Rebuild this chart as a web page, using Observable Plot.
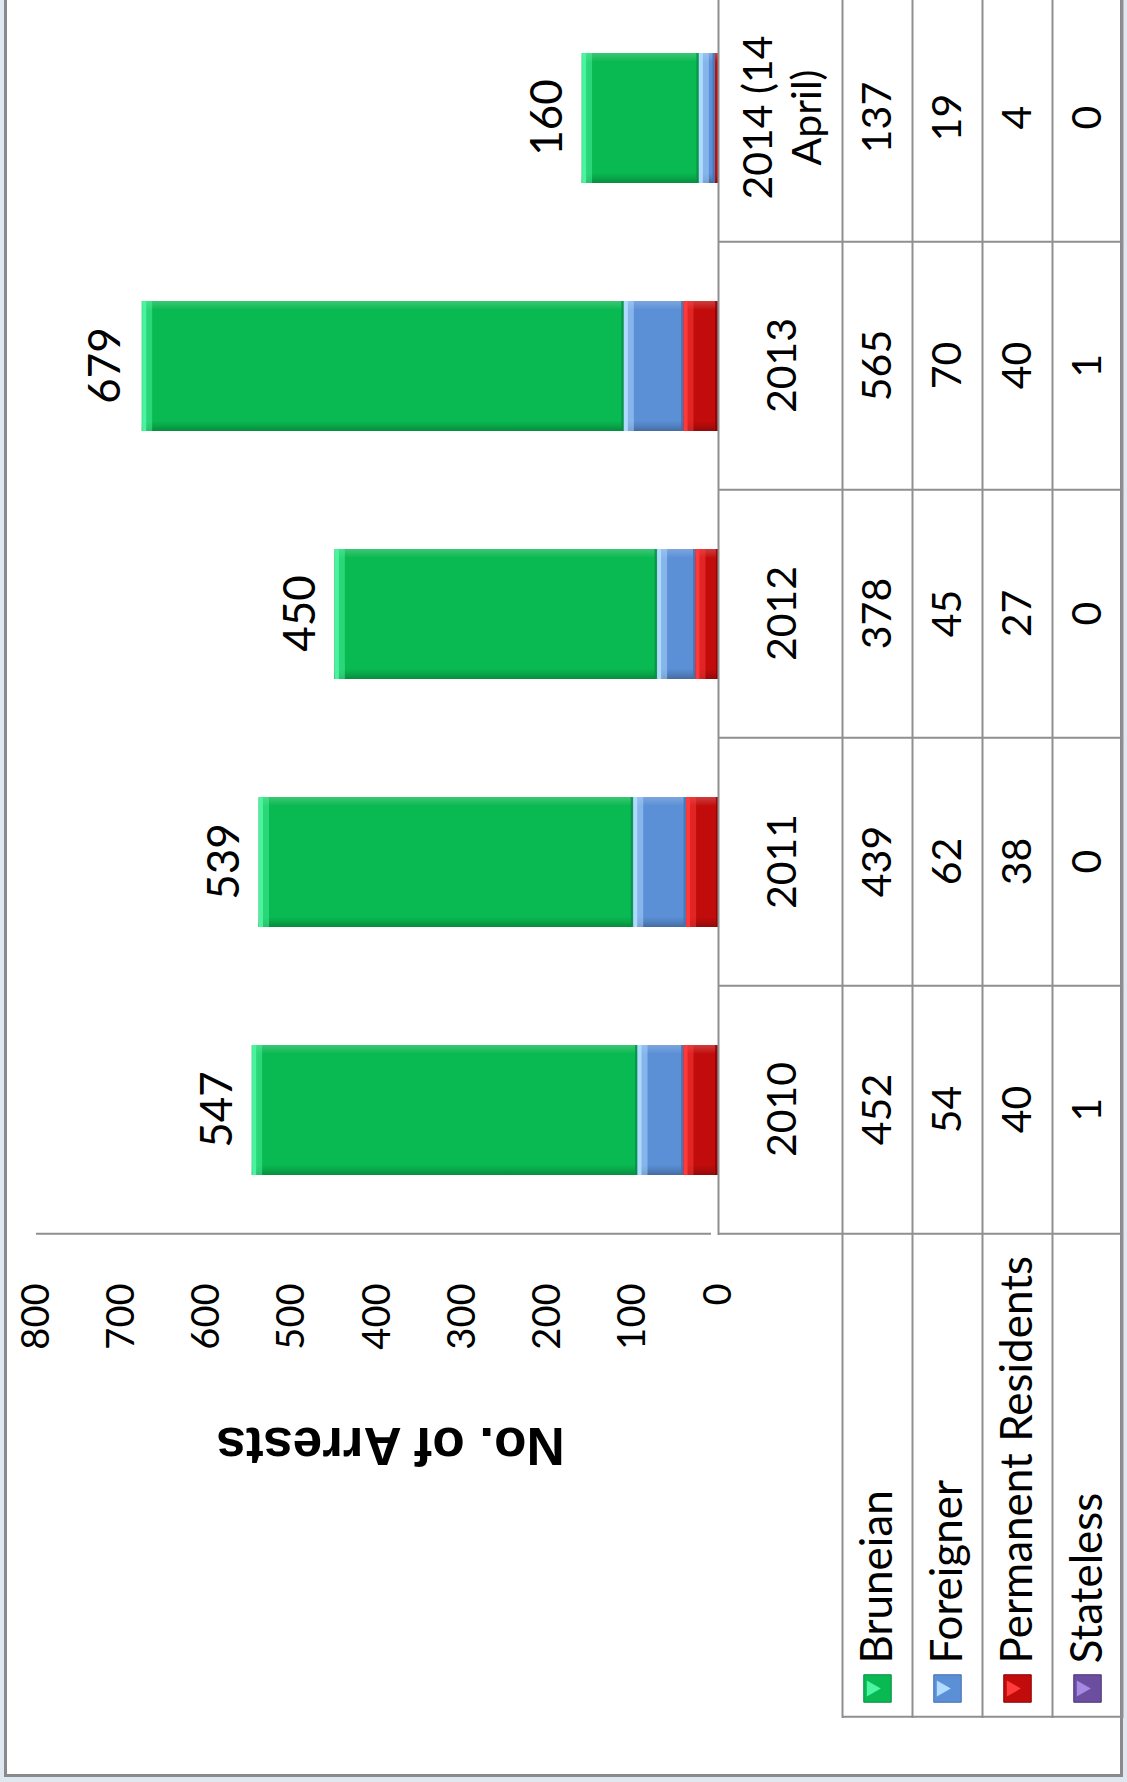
<!DOCTYPE html>
<html>
<head>
<meta charset="utf-8">
<script src="https://cdn.jsdelivr.net/npm/d3@7"></script>
<script src="https://cdn.jsdelivr.net/npm/@observablehq/plot@0.6"></script>
<style>
html, body { margin: 0; padding: 0; background: #dfe8f1; overflow: hidden; }
#page { position: absolute; left: 0; top: 0; width: 1127px; height: 1782px; overflow: hidden; }
#rot { position: absolute; left: 0; top: 0; width: 1782px; height: 1127px;
       transform-origin: 0 0; transform: translate(0px, 1782px) rotate(-90deg); }
#frame { position: absolute; left: 5px; top: 4px; width: 1800px; height: 1119px;
         border: 3px solid #8a8a8a; background: #fff; box-sizing: border-box; }
.layer { position: absolute; left: 0; top: 0; }
#defs { position: absolute; width: 0; height: 0; }
</style>
</head>
<body>
<svg id="defs" width="0" height="0">
  <defs>
    <linearGradient id="bevelH" x1="0" y1="0" x2="1" y2="0">
      <stop offset="0" stop-color="#000" stop-opacity="0.25"/>
      <stop offset="0.04" stop-color="#000" stop-opacity="0.1"/>
      <stop offset="0.08" stop-color="#000" stop-opacity="0"/>
      <stop offset="0.93" stop-color="#fff" stop-opacity="0"/>
      <stop offset="0.97" stop-color="#fff" stop-opacity="0.12"/>
      <stop offset="1" stop-color="#fff" stop-opacity="0.2"/>
    </linearGradient>
  </defs>
</svg>
<div id="page"><div id="rot"><div id="frame"></div></div></div>
<script>
// ---- data ----
const years = ["2010", "2011", "2012", "2013", "2014"];
const yearLabels = ["2010", "2011", "2012", "2013", "2014 (14\nApril)"];
const seriesNames = ["Bruneian", "Foreigner", "Permanent Residents", "Stateless"];
const bruneian = [452, 439, 378, 565, 137];
const foreigner = [54, 62, 45, 70, 19];
const permanent = [40, 38, 27, 40, 4];
const stateless = [1, 0, 0, 1, 0];
const totals = [547, 539, 450, 679, 160];
const yTickCount = 8;

// ---- styles ----
const seriesColors = ["#09b951", "#5b8fd6", "#c20c0c", "#6b4ea0"];
const seriesLight = ["#4cf5a0", "#b0dcff", "#ff3b3b", "#a788e2"];
const seriesDark = ["#068f45", "#4070b2", "#8a0000", "#4a3375"];
const lineColor = "#8f8f8f";

const W = 1782, H = 1127;
const idx = s => seriesNames.indexOf(s);
const valuesBySeries = {
  "Bruneian": bruneian, "Foreigner": foreigner,
  "Permanent Residents": permanent, "Stateless": stateless
};
const stackOrder = ["Stateless", "Permanent Residents", "Foreigner", "Bruneian"];
const long = [];
for (const s of stackOrder) years.forEach((y, i) => long.push({year: y, series: s, value: valuesBySeries[s][i]}));

const xOpts = {domain: years, range: [547, 1789], paddingInner: 0.477, paddingOuter: 0.2385, axis: null};
const stackOpts = extra => ({x: "year", y: "value", z: "series", ...extra});
const step = (1789 - 547) / years.length;

const main = Plot.plot({
  width: W, height: H,
  marginLeft: 547, marginRight: 0, marginTop: 36, marginBottom: 409,
  style: {background: "transparent", fontFamily: "Lato, sans-serif", fontSize: "38px", color: "#000", overflow: "visible"},
  x: xOpts,
  y: {domain: [0, 800], range: [718, 36], ticks: yTickCount, tickSize: 0, tickPadding: 49, label: null},
  color: {type: "identity"},
  marks: [
    Plot.barY(long, Plot.stackY(stackOpts({fill: d => seriesColors[idx(d.series)]}))),
    Plot.barY(long, Plot.stackY(stackOpts({fill: "url(#bevelH)"}))),
    Plot.tickY(long, Plot.stackY1(stackOpts({stroke: d => seriesDark[idx(d.series)], strokeWidth: 2.5, dy: -1.25,
      strokeOpacity: d => d.value >= 8 ? 0.8 : 0}))),
    Plot.tickY(long, Plot.stackY2(stackOpts({stroke: d => seriesLight[idx(d.series)], strokeWidth: 10, dy: 5,
      strokeOpacity: d => d.value >= 8 ? 0.5 : 0}))),
    Plot.tickY(long, Plot.stackY2(stackOpts({stroke: d => seriesLight[idx(d.series)], strokeWidth: 4, dy: 2,
      strokeOpacity: d => d.value >= 8 ? 0.95 : 0}))),
    Plot.ruleX([years[0]], {x: d => d, dx: -step / 2, y1: 0, y2: 800, insetTop: -7, stroke: lineColor, strokeWidth: 2}),
    Plot.text(years, {x: d => d, y: (d, i) => totals[i], text: (d, i) => String(totals[i]), dy: -34, fontSize: 44, fill: "#000"}),
    Plot.text(["No. of Arrests"], {frameAnchor: "left", textAnchor: "middle", dx: -210, dy: 13, rotate: -90, fontSize: 53,
      fontWeight: "bold", fontFamily: "Liberation Sans, Arial, sans-serif", fill: "#000"})
  ]
});
main.classList.add("layer");

const rowMarks = [];
seriesNames.forEach((s, k) => {
  rowMarks.push(Plot.text(years, {x: d => d, y: () => k + 1.5, text: (d, i) => String(valuesBySeries[s][i]), fontSize: 41, fill: "#000"}));
});

const table = Plot.plot({
  width: W, height: H,
  marginLeft: 64, marginRight: 0, marginTop: 718, marginBottom: 5,
  style: {background: "transparent", fontFamily: "Lato, sans-serif", fontSize: "41px", color: "#000", overflow: "visible"},
  x: xOpts,
  y: {type: "linear", domain: [0, 1, 5], range: [718, 842, 1122], axis: null},
  color: {type: "identity"},
  marks: [
    Plot.ruleY([0], {y: d => d, insetLeft: 483, stroke: lineColor, strokeWidth: 2}),
    Plot.ruleY([1, 2, 3, 4, 5], {y: d => d, stroke: lineColor, strokeWidth: 2}),
    Plot.ruleX(years, {x: d => d, dx: -step / 2, y1: 0, y2: 5, stroke: lineColor, strokeWidth: 2}),
    Plot.ruleX([years[0]], {x: d => d, dx: -step / 2 - 483, y1: 1, y2: 5, stroke: lineColor, strokeWidth: 2}),
    Plot.text(years, {x: d => d, y: () => 0.5, text: (d, i) => yearLabels[i], fontSize: 41, lineHeight: 1.2, fill: "#000"}),
    ...rowMarks,
    Plot.text(seriesNames, {frameAnchor: "left", y: (d, i) => i + 1.5, dx: 54, textAnchor: "start", text: d => d, fontSize: 44, fill: "#000"}),
    Plot.dot(seriesNames, {frameAnchor: "left", y: (d, i) => i + 1.5, dx: 29, symbol: "square", r: 15.5,
      fill: d => seriesColors[idx(d)], stroke: d => seriesDark[idx(d)], strokeWidth: 1}),
    Plot.dot(seriesNames, {frameAnchor: "left", y: (d, i) => i + 1.5, dx: 29, dy: -6, symbol: "triangle", r: 6, rotate: 180,
      fill: d => seriesLight[idx(d)]})
  ]
});
table.classList.add("layer");

const rot = document.getElementById("rot");
rot.appendChild(main);
rot.appendChild(table);
</script>
</body>
</html>
